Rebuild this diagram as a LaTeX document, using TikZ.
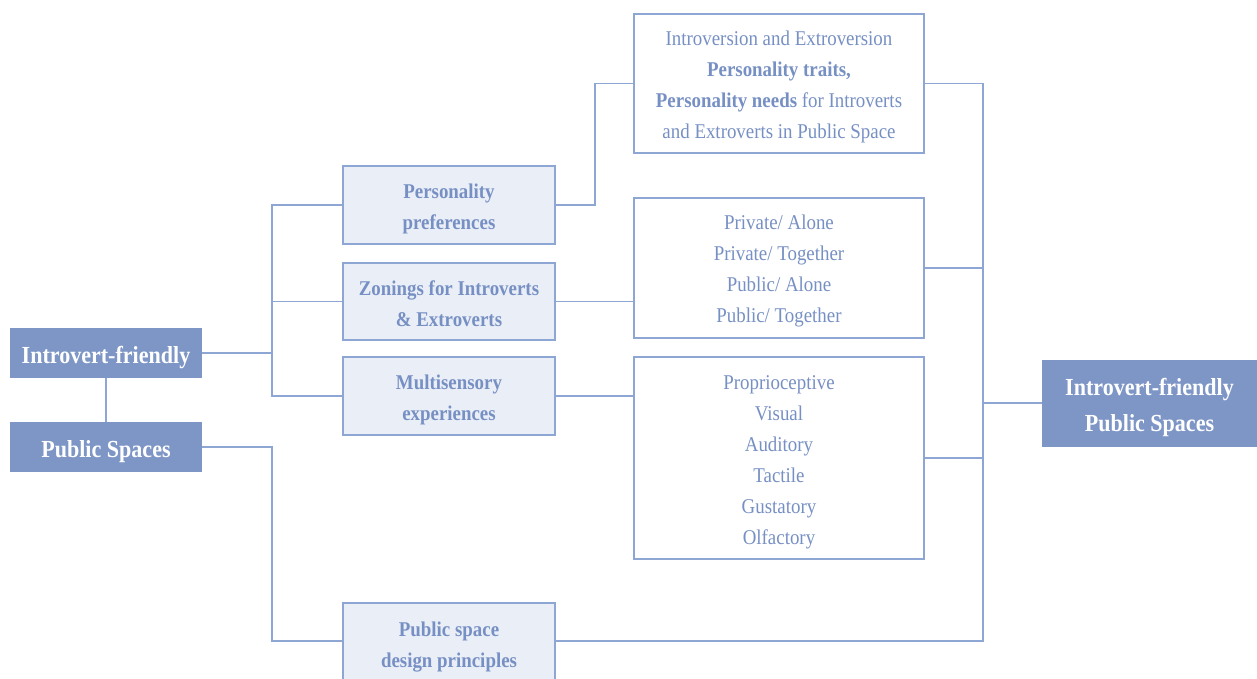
\documentclass[tikz,border=0pt]{standalone}
\usepackage{fontspec}
\setmainfont{Liberation Serif}[FakeStretch=0.9]
\definecolor{dblue}{HTML}{7D96C6}
\definecolor{lfill}{HTML}{EAEEF7}
\definecolor{lline}{HTML}{8EA6D3}
\definecolor{tblue}{HTML}{7790C4}
\newcommand{\dn}[1]{\rule{0pt}{#1pt}}
\begin{document}
\begin{tikzpicture}[x=1pt,y=-1pt,
  darkbox/.style={draw=none,fill=dblue,text=white,font=\fontsize{24.5}{36}\selectfont\bfseries,align=center,inner sep=0pt},
  midbox/.style={draw=lline,line width=1.2pt,fill=lfill,text=tblue,font=\fontsize{21}{31}\selectfont\bfseries,align=center,inner sep=0pt,minimum width=212pt},
  txtbox/.style={draw=lline,line width=1.5pt,fill=white,text=tblue,font=\fontsize{21}{31}\selectfont,align=center,inner sep=0pt,minimum width=290pt},
  conn/.style={draw=lline,line width=1.2pt}]
\useasboundingbox (0,0) rectangle (1257,678);
\fill[white] (0,0) rectangle (1257,678);
% left boxes
\node[darkbox,minimum width=192pt,minimum height=50pt] (if) at (106,353) {\dn{27}Introvert-friendly};
\node[darkbox,minimum width=192pt,minimum height=50pt] (ps) at (106,447) {\dn{27}Public Spaces};
% middle boxes
\node[midbox,minimum height=78pt] (pp) at (449,205) {\dn{22}Personality\\preferences};
\node[midbox,minimum height=77pt] (zon) at (449,301.5) {\dn{19}Zonings for Introverts\\\& Extroverts};
\node[midbox,minimum height=78pt] (ms) at (449,396) {\dn{22}Multisensory\\experiences};
\node[midbox,minimum height=80pt] (pd) at (449,643) {\dn{22}Public space\\design principles};
% text boxes
\node[txtbox,minimum height=139pt] (intro) at (779,83.5) {\dn{22}Introversion and Extroversion\\\textbf{Personality traits,}\\\textbf{Personality needs} for Introverts\\and Extroverts in Public Space};
\node[txtbox,minimum height=140pt] (zones) at (779,268) {\dn{20}Private/ Alone\\Private/ Together\\Public/ Alone\\Public/ Together};
\node[txtbox,minimum height=202pt] (senses) at (779,458) {\dn{22}Proprioceptive\\Visual\\Auditory\\Tactile\\Gustatory\\Olfactory};
% right box
\node[darkbox,minimum width=215pt,minimum height=87pt] (res) at (1149.5,403) {\dn{27}Introvert-friendly\\Public Spaces};
% coordinates
\coordinate (lj) at (272,353);
\coordinate (rj) at (983,403);
\coordinate (pj) at (272,641);
% connectors
\draw[conn] (if) -- (ps);
\draw[conn] (if.east) -- (lj);
\draw[conn] (pp.west) -| (lj) |- (ms.west);
\draw[conn] (zon.west) -- (zon.west -| lj);
\draw[conn] (ps.east) -| (pj) -- (pj -| pd.west);
\draw[conn] (pp.east) -- (595,205) |- (intro.west);
\draw[conn] (zon.east) -- (zon.east -| zones.west);
\draw[conn] (ms.east) -- (ms.east -| senses.west);
\draw[conn] (intro.east) -| (rj);
\draw[conn] (zones.east) -- (zones.east -| rj);
\draw[conn] (senses.east) -- (senses.east -| rj);
\draw[conn] (pj -| pd.east) -| (rj);
\draw[conn] (rj) -- (res.west);
\end{tikzpicture}
\end{document}
